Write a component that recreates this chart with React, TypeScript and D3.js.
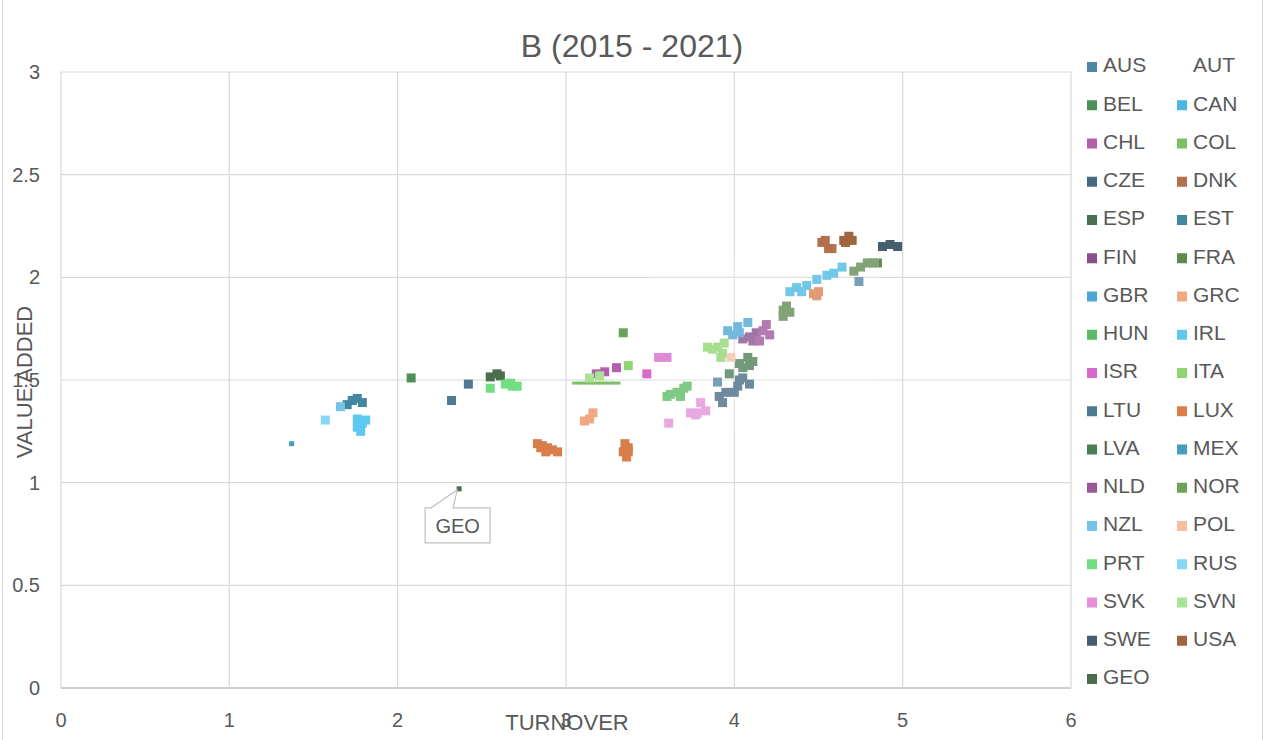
import * as d3 from 'd3';

// turnover / value added per country, 2015-2021
const AUS = [[3.90, 1.49], [4.74, 1.98]];
const AUT: number[][] = [];
const BEL = [[2.08, 1.51]];
const CAN = [[4.33, 1.93], [4.37, 1.95], [4.40, 1.93], [4.43, 1.96], [4.49, 1.99], [4.55, 2.01], [4.59, 2.02], [4.64, 2.05]];
const CHL = [[3.18, 1.53], [3.23, 1.54], [3.30, 1.56]];
const COL = [[3.06, 1.485], [3.10, 1.485], [3.14, 1.485], [3.18, 1.485], [3.22, 1.485], [3.26, 1.485], [3.30, 1.485]];
const CZE = [[3.91, 1.42], [3.93, 1.39], [3.95, 1.44], [4.00, 1.44], [4.02, 1.47], [4.03, 1.50], [4.05, 1.51], [4.09, 1.48]];
const DNK = [[4.52, 2.17], [4.54, 2.18], [4.56, 2.14], [4.58, 2.14]];
const ESP = [[2.55, 1.515], [2.59, 1.53], [2.61, 1.52]];
const EST = [[1.70, 1.38], [1.73, 1.40], [1.76, 1.41], [1.79, 1.39]];
const FIN = [[4.05, 1.70], [4.09, 1.71], [4.11, 1.69], [4.13, 1.73]];
const FRA = [[4.29, 1.81], [4.29, 1.84], [4.31, 1.86], [4.33, 1.83], [4.71, 2.03], [4.75, 2.05], [4.79, 2.07], [4.82, 2.07], [4.85, 2.07]];
const GBR = [[3.96, 1.74], [3.99, 1.72], [4.02, 1.76], [4.03, 1.73], [4.08, 1.78]];
const GRC = [[3.11, 1.30], [3.14, 1.31], [3.16, 1.34]];
const HUN = [[3.60, 1.42], [3.62, 1.43], [3.66, 1.44], [3.68, 1.42], [3.70, 1.46], [3.72, 1.47]];
const IRL = [[1.76, 1.31], [1.79, 1.29], [1.76, 1.27], [1.78, 1.25], [1.81, 1.305], [1.78, 1.28]];
const ISR = [[3.48, 1.53], [3.55, 1.61], [3.60, 1.61]];
const ITA = [[3.37, 1.57], [3.84, 1.66], [3.87, 1.65], [3.90, 1.66], [3.92, 1.61], [3.93, 1.63], [3.94, 1.68]];
const LTU = [[2.32, 1.40], [2.42, 1.48]];
const LUX = [[2.83, 1.19], [2.85, 1.17], [2.86, 1.18], [2.88, 1.15], [2.89, 1.17], [2.92, 1.16], [2.95, 1.15],
  [3.34, 1.15], [3.35, 1.19], [3.36, 1.125], [3.37, 1.17], [3.37, 1.15], [4.47, 1.92], [4.49, 1.91], [4.50, 1.93]];
const LVA = [[3.97, 1.53], [4.03, 1.58], [4.05, 1.56], [4.08, 1.61], [4.09, 1.57], [4.11, 1.59]];
const MEX = [[1.37, 1.19]];
const NLD = [[4.15, 1.69], [4.17, 1.74], [4.19, 1.77], [4.21, 1.72]];
const NOR = [[3.34, 1.73]];
const NZL = [[1.66, 1.37]];
const POL = [[3.98, 1.61]];
const PRT = [[2.55, 1.46], [2.64, 1.48], [2.67, 1.485], [2.68, 1.47], [2.71, 1.47]];
const RUS = [[1.57, 1.305]];
const SVK = [[3.61, 1.29], [3.74, 1.34], [3.77, 1.33], [3.78, 1.34], [3.80, 1.39], [3.83, 1.35]];
const SVN = [[3.14, 1.51], [3.20, 1.52]];
const SWE = [[4.88, 2.15], [4.925, 2.16], [4.97, 2.15]];
const USA = [[4.65, 2.18], [4.66, 2.17], [4.68, 2.20], [4.70, 2.18]];
const GEO = [[2.365, 0.97]];

const countries = ['AUS', 'AUT', 'BEL', 'CAN', 'CHL', 'COL', 'CZE', 'DNK', 'ESP', 'EST', 'FIN', 'FRA', 'GBR', 'GRC',
  'HUN', 'IRL', 'ISR', 'ITA', 'LTU', 'LUX', 'LVA', 'MEX', 'NLD', 'NOR', 'NZL', 'POL', 'PRT', 'RUS', 'SVK', 'SVN',
  'SWE', 'USA', 'GEO'];
const values = [AUS, AUT, BEL, CAN, CHL, COL, CZE, DNK, ESP, EST, FIN, FRA, GBR, GRC, HUN, IRL, ISR, ITA, LTU, LUX,
  LVA, MEX, NLD, NOR, NZL, POL, PRT, RUS, SVK, SVN, SWE, USA, GEO];
const colors = ['#4f86a4', 'none', '#4f8f58', '#48b8e2', '#b45fae', '#7cc064', '#476a80', '#b3704c', '#4a6f4c',
  '#43869f', '#88508a', '#5e8a50', '#4ea6d4', '#f2a882', '#5bba66', '#5dc9f0', '#d76ac8', '#8fd672', '#4c7a94',
  '#d97e4a', '#4a7e55', '#479dc0', '#9c579b', '#6ca35a', '#73c4e8', '#f5c0a2', '#71de83', '#88d6f5', '#e590d8',
  '#abe396', '#465f70', '#a0643e', '#486e4c'];

const xTicks = [0, 1, 2, 3, 4, 5, 6];
const yTicks = [0, 0.5, 1, 1.5, 2, 2.5, 3];

const W = 1265;
const H = 740;
const FONT = 'Liberation Sans, Arial, sans-serif';
const TXT = '#595959';

// marker size (w, h) per series; most use the default square
function markerSize(c: string): [number, number] {
  if (c === 'COL') return [8, 3];
  if (c === 'MEX' || c === 'GEO') return [5, 5];
  return [9, 9];
}

export default function App() {
  const x = d3.scaleLinear().domain([0, 6]).range([61, 1071]);
  const y = d3.scaleLinear().domain([0, 3]).range([688, 72]);
  const fmt = d3.format('');

  const geoPt = GEO[0];
  const gx = x(geoPt[0]);
  const gy = y(geoPt[1]);

  return (
    <div style={{ position: 'absolute', left: 0, top: 0 }}>
      <svg width={W} height={H} style={{ display: 'block', background: '#fff' }}>
        <rect x={2.5} y={-2} width={1260} height={H + 4} fill="#fff" stroke="#d9d9d9" />

        {/* grid */}
        {yTicks.map(t => (
          <line key={'gy' + t} x1={x(0)} x2={x(6)} y1={y(t)} y2={y(t)}
            stroke={t === 0 ? '#bfbfbf' : '#d9d9d9'} strokeWidth={t === 0 ? 1.5 : 1.2} />
        ))}
        {xTicks.map(t => (
          <line key={'gx' + t} x1={x(t)} x2={x(t)} y1={y(3)} y2={y(0)} stroke="#d9d9d9" strokeWidth={1.2} />
        ))}

        {/* tick labels */}
        {yTicks.map(t => (
          <text key={'ly' + t} x={40} y={y(t)} dy="0.35em" textAnchor="end" fontSize={20}
            fontFamily={FONT} fill={TXT}>{fmt(t)}</text>
        ))}
        {xTicks.map(t => (
          <text key={'lx' + t} x={x(t)} y={720} dy="0.35em" textAnchor="middle" fontSize={20}
            fontFamily={FONT} fill={TXT}>{fmt(t)}</text>
        ))}

        {/* title and axis titles */}
        <text x={632} y={46} dy="0.35em" textAnchor="middle" fontSize={32} fontFamily={FONT} fill={TXT}>
          B (2015 - 2021)
        </text>
        <text transform={`translate(24,${(y(0) + y(3)) / 2 + 2}) rotate(-90)`} dy="0.35em" textAnchor="middle"
          fontSize={22} fontFamily={FONT} fill={TXT}>VALUE ADDED</text>
        <text x={567} y={722} dy="0.35em" textAnchor="middle" fontSize={22} fontFamily={FONT} fill={TXT}>
          TURNOVER
        </text>

        {/* points */}
        {values.map((pts, i) => {
          const [w, h] = markerSize(countries[i]);
          return (
            <g key={countries[i]} fill={colors[i]}>
              {pts.map((p, j) => (
                <rect key={j} x={x(p[0]) - w / 2} y={y(p[1]) - h / 2} width={w} height={h} />
              ))}
            </g>
          );
        })}

        {/* faded patch over the dense part of the cloud, as in the source image */}
        <rect x={x(3.51)} y={y(2.11)} width={x(4.86) - x(3.51)} height={y(1.26) - y(2.11)}
          fill="#fff" opacity={0.22} />

        {/* GEO callout */}
        <path d={`M${gx - 34},${gy + 19} L${gx - 28},${gy + 19} L${gx - 2},${gy + 1} L${gx - 6},${gy + 19}
          L${gx + 31},${gy + 19} L${gx + 31},${gy + 54} L${gx - 34},${gy + 54} Z`}
          fill="#fff" stroke="#bfbfbf" strokeWidth={1.2} />
        <text x={gx - 1.5} y={gy + 37} dy="0.35em" textAnchor="middle" fontSize={20} fontFamily={FONT} fill={TXT}>
          GEO
        </text>

        {/* legend */}
        {countries.map((c, i) => {
          const col = i % 2;
          const row = Math.floor(i / 2);
          const ty = 65 + row * 38.25;
          const mx = col === 0 ? 1092 : 1182;
          return (
            <g key={'lg' + c}>
              <rect x={mx - 5} y={ty - 3} width={10} height={10} fill={colors[i]} />
              <text x={mx + 11} y={ty} dy="0.35em" fontSize={21} fontFamily={FONT} fill={TXT}>{c}</text>
            </g>
          );
        })}
      </svg>
    </div>
  );
}
